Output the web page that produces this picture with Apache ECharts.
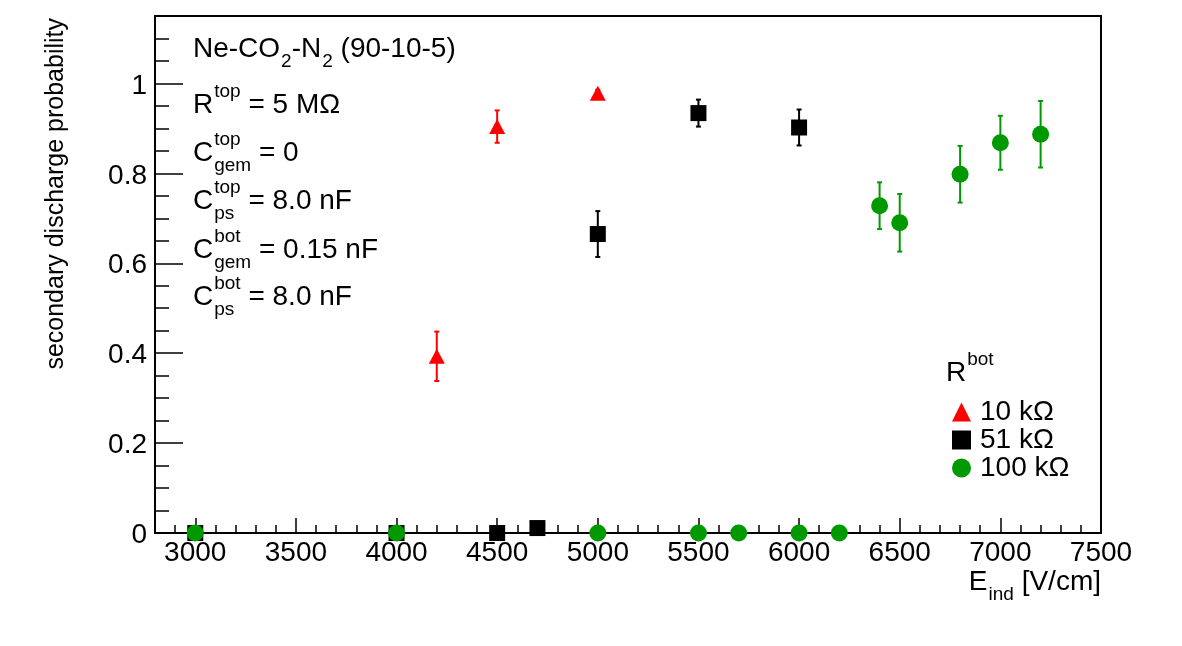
<!DOCTYPE html>
<html>
<head>
<meta charset="utf-8">
<title>secondary discharge probability</title>
<script src="https://cdn.jsdelivr.net/npm/echarts@6/dist/echarts.min.js"></script>
<style>
html, body { margin: 0; padding: 0; background: #fff; }
#chart { width: 1182px; height: 646px; }
</style>
</head>
<body>
<div id="chart"></div>
<script>
// R_bot = 10 kOhm
var field10 = [4200, 4500, 5000];
var prob10  = [0.393, 0.904, 0.978];
var err10   = [0.055, 0.036, 0.008];

// R_bot = 51 kOhm
var field51 = [3000, 4000, 4500, 4700, 5000, 5500, 6000];
var prob51  = [0, 0, 0, 0.011, 0.665, 0.934, 0.902];
var err51   = [0, 0, 0, 0, 0.051, 0.030, 0.040];

// R_bot = 100 kOhm
var field100 = [3000, 4000, 5000, 5500, 5700, 6000, 6200, 6400, 6500, 6800, 7000, 7200];
var prob100  = [0, 0, 0, 0, 0, 0, 0, 0.728, 0.690, 0.798, 0.868, 0.887];
var err100   = [0, 0, 0, 0, 0, 0, 0, 0.052, 0.064, 0.063, 0.060, 0.074];

var legendNames = ['10 kΩ', '51 kΩ', '100 kΩ'];
var xRange = [2800, 7500];
var yRange = [0, 1.15];

var FONT = '"Liberation Sans", Arial, Helvetica, sans-serif';
var RED = '#ff0000', BLACK = '#000000', GREEN = '#009a00';

var ctx = document.createElement('canvas').getContext('2d');
function textW(s, size) {
    ctx.font = size + 'px ' + FONT;
    return ctx.measureText(s).width;
}

// text line with sub/superscripts, baseline y; returns graphic elements
function latexLine(parts, x, base, size, small, alignRight) {
    var widths = parts.map(function (p) {
        if (typeof p == 'string') return textW(p, size);
        return Math.max(p.sup ? textW(p.sup, small) : 0, p.sub ? textW(p.sub, small) : 0) + 1;
    });
    var total = widths.reduce(function (a, b) { return a + b; }, 0);
    var cx = alignRight ? x - total : x;
    var els = [];
    function txt(s, px, py, fs) {
        els.push({
            type: 'text', x: px, y: py, silent: true,
            style: { text: s, fontSize: fs, fontFamily: FONT, fill: '#000', align: 'left', verticalAlign: 'middle' }
        });
    }
    parts.forEach(function (p, i) {
        if (typeof p == 'string') {
            txt(p, cx, base - 10, size);
        } else {
            if (p.sup) txt(p.sup, cx + 1, base - 23, small);
            if (p.sub) txt(p.sub, cx + 1, base + 3, small);
        }
        cx += widths[i];
    });
    return els;
}

function pts(xs, ys) {
    return xs.map(function (x, i) { return [x, ys[i]]; });
}
function errPts(xs, ys, es) {
    return xs.map(function (x, i) { return [x, ys[i], es[i]]; });
}

function errorBar(color) {
    return function (params, api) {
        var e = api.value(2);
        if (!e) return;
        var x = api.value(0), y = api.value(1);
        var hi = api.coord([x, y + e]);
        var lo = api.coord([x, y - e]);
        var st = { stroke: color, lineWidth: 2 };
        return {
            type: 'group',
            children: [
                { type: 'line', shape: { x1: hi[0], y1: hi[1], x2: lo[0], y2: lo[1] }, style: st },
                { type: 'line', shape: { x1: hi[0] - 2.5, y1: hi[1], x2: hi[0] + 2.5, y2: hi[1] }, style: st },
                { type: 'line', shape: { x1: lo[0] - 2.5, y1: lo[1], x2: lo[0] + 2.5, y2: lo[1] }, style: st }
            ]
        };
    };
}

var textLines = [
    [['Ne-CO', { sub: '2' }, '-N', { sub: '2' }, ' (90-10-5)'], 59],
    [['R', { sup: 'top' }, ' = 5 MΩ'], 115],
    [['C', { sup: 'top', sub: 'gem' }, ' = 0'], 163],
    [['C', { sup: 'top', sub: 'ps' }, ' = 8.0 nF'], 211],
    [['C', { sup: 'bot', sub: 'gem' }, ' = 0.15 nF'], 260],
    [['C', { sup: 'bot', sub: 'ps' }, ' = 8.0 nF'], 307]
];

var graphics = [];
textLines.forEach(function (l) {
    graphics = graphics.concat(latexLine(l[0], 193, l[1], 28, 19, false));
});
graphics = graphics.concat(latexLine(['R', { sup: 'bot' }], 946, 383, 28, 19, false));
graphics = graphics.concat(latexLine(['E', { sub: 'ind' }, ' [V/cm]'], 1101, 592, 28, 19, true));
graphics.push({
    type: 'text', x: 56, y: 18, rotation: Math.PI / 2, silent: true,
    style: { text: 'secondary discharge probability', fontSize: 25, fontFamily: FONT, fill: '#000', align: 'right', verticalAlign: 'middle' }
});

var tickStyle = { color: '#000', width: 1.5 };

var chart = echarts.init(document.getElementById('chart'));
chart.setOption({
    animation: false,
    backgroundColor: '#fff',
    grid: {
        left: 155, top: 16, width: 946, height: 517,
        show: true, borderColor: '#000', borderWidth: 2, backgroundColor: 'transparent',
        outerBoundsMode: 'none'
    },
    xAxis: {
        type: 'value', min: xRange[0], max: xRange[1],
        minInterval: 500, maxInterval: 500, splitNumber: 9,
        axisLine: { onZero: false, lineStyle: { color: '#000', width: 2 } },
        axisTick: { inside: true, length: 15, lineStyle: tickStyle },
        minorTick: { show: true, splitNumber: 5, length: 8, lineStyle: tickStyle },
        splitLine: { show: false },
        axisLabel: {
            showMinLabel: false, margin: 6, color: '#000', fontSize: 28, fontFamily: FONT,
            formatter: function (v) { return String(v); }
        }
    },
    yAxis: {
        type: 'value', min: yRange[0], max: yRange[1],
        minInterval: 0.2, maxInterval: 0.2, splitNumber: 6,
        axisLine: { onZero: false, lineStyle: { color: '#000', width: 2 } },
        axisTick: { inside: true, length: 28, lineStyle: tickStyle },
        minorTick: { show: true, splitNumber: 4, length: 14, lineStyle: tickStyle },
        splitLine: { show: false },
        axisLabel: {
            showMaxLabel: false, margin: 8, color: '#000', fontSize: 28, fontFamily: FONT,
            formatter: function (v) { return '{t|' + v + '}'; },
            rich: { t: { fontSize: 28, fontFamily: FONT, color: '#000', padding: [5, 0, 0, 0] } }
        }
    },
    legend: {
        orient: 'vertical', left: 947, top: 393,
        itemWidth: 19, itemHeight: 19, itemGap: 0,
        symbolKeepAspect: true,
        selectedMode: false,
        data: legendNames,
        textStyle: { color: '#000', fontSize: 28, fontFamily: FONT, lineHeight: 26, padding: [0, 0, 0, 4] }
    },
    graphic: graphics,
    series: [
        { type: 'custom', renderItem: errorBar(RED), data: errPts(field10, prob10, err10), encode: { x: 0, y: 1 }, z: 1, silent: true },
        { type: 'custom', renderItem: errorBar(BLACK), data: errPts(field51, prob51, err51), encode: { x: 0, y: 1 }, z: 1, silent: true },
        { type: 'custom', renderItem: errorBar(GREEN), data: errPts(field100, prob100, err100), encode: { x: 0, y: 1 }, z: 1, silent: true },
        { name: legendNames[0], type: 'scatter', symbol: 'triangle', symbolSize: [16, 15], itemStyle: { color: RED, opacity: 1 }, data: pts(field10, prob10), z: 3 },
        { name: legendNames[1], type: 'scatter', symbol: 'rect', symbolSize: 16, itemStyle: { color: BLACK, opacity: 1 }, data: pts(field51, prob51), z: 4 },
        { name: legendNames[2], type: 'scatter', symbol: 'circle', symbolSize: 17, itemStyle: { color: GREEN, opacity: 1 }, data: pts(field100, prob100), z: 5 }
    ]
});
</script>
</body>
</html>
